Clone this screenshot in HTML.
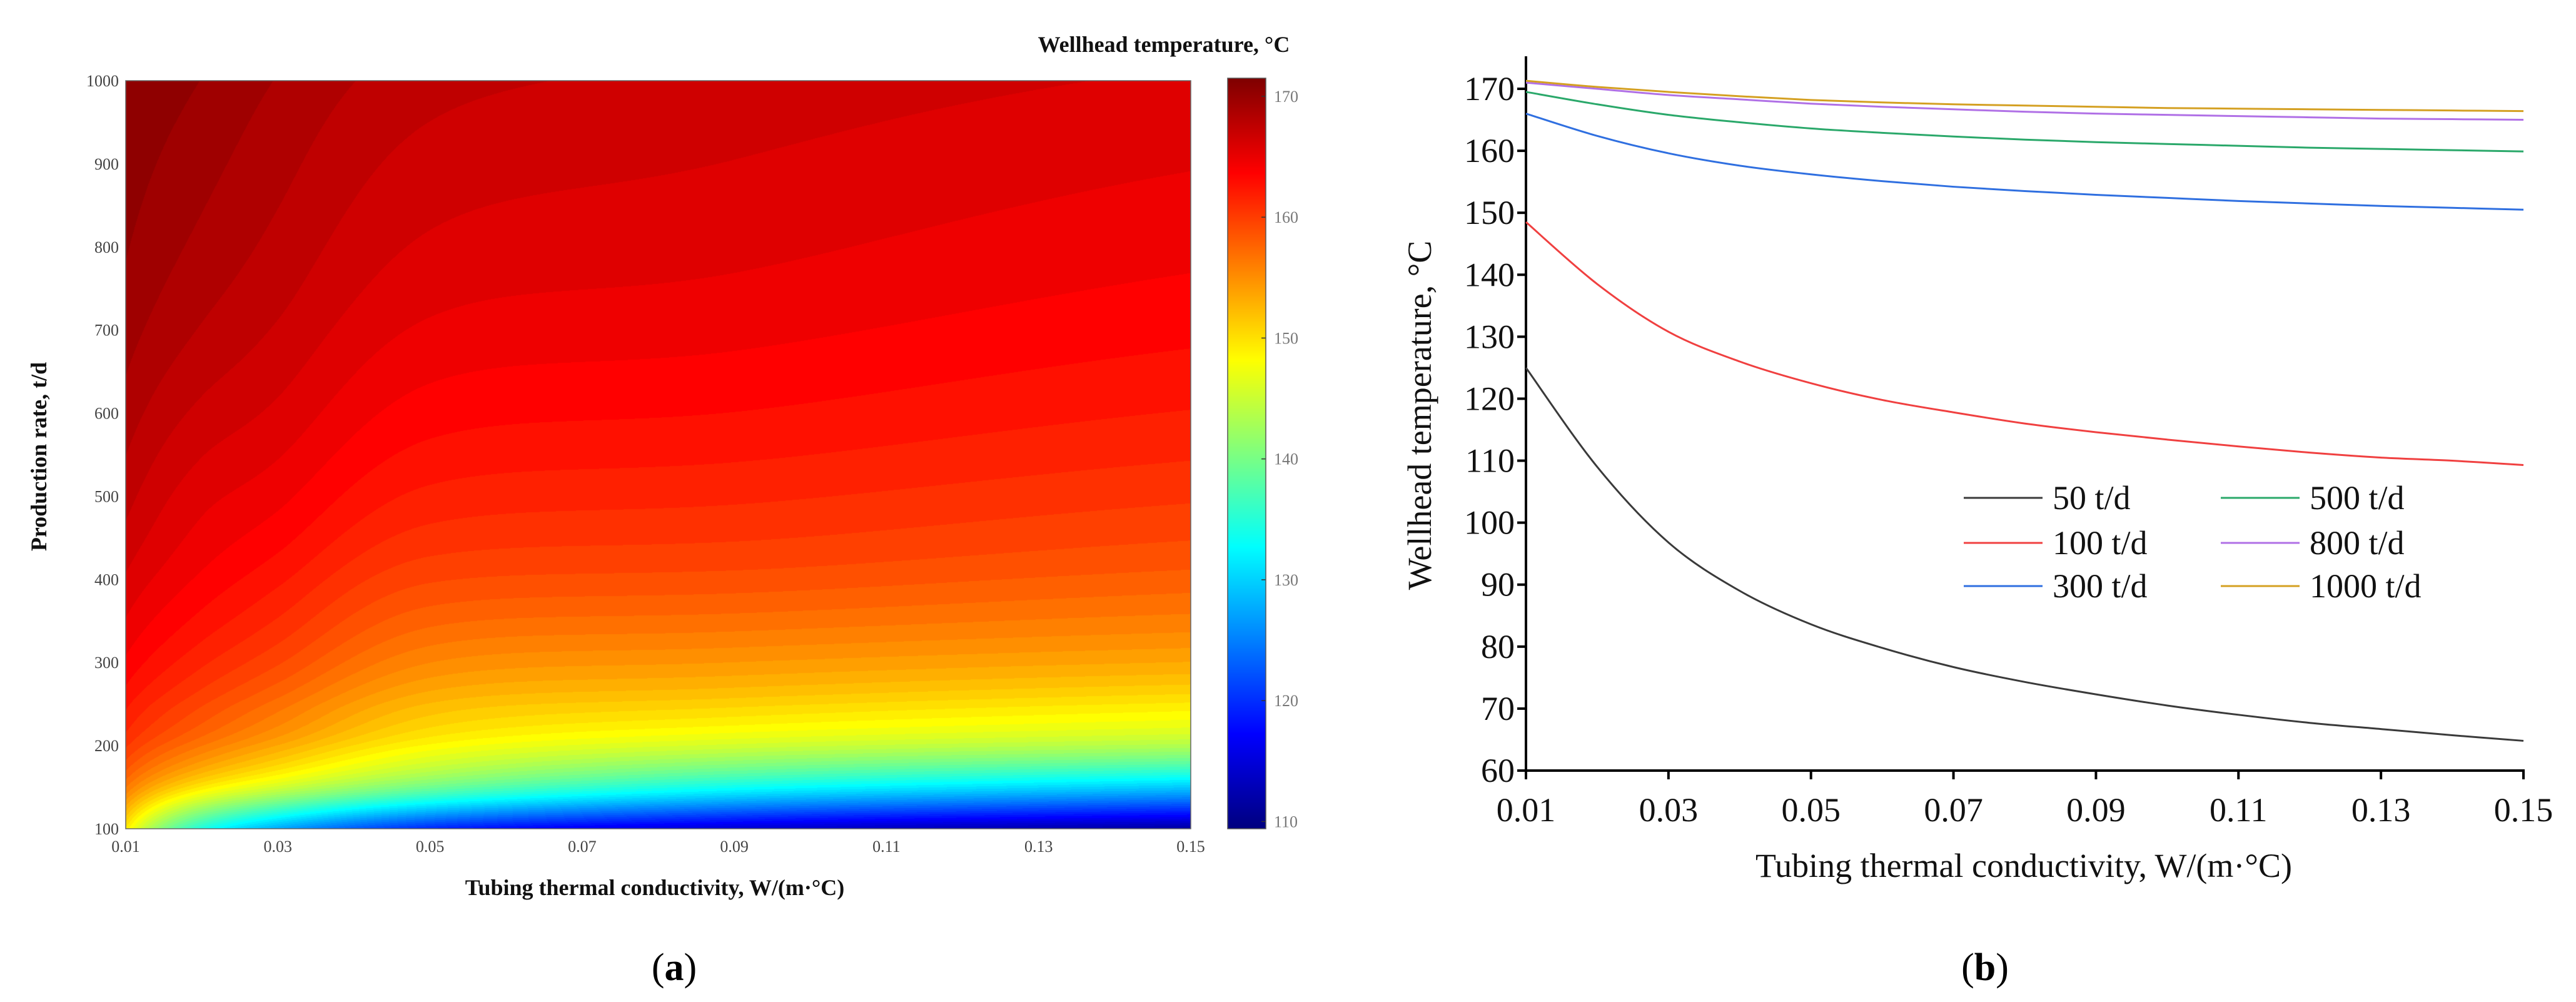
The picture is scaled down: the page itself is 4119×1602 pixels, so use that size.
<!DOCTYPE html>
<html><head><meta charset="utf-8">
<style>
html,body{margin:0;padding:0;background:#fff;width:4119px;height:1602px;overflow:hidden;}
#wrap{position:relative;width:4119px;height:1602px;}
#heat{position:absolute;left:201px;top:129px;}
#cbar{position:absolute;left:1963px;top:125px;}
svg{position:absolute;left:0;top:0;}
text{font-family:"Liberation Serif",serif;}
</style></head>
<body><div id="wrap">
<canvas id="heat" width="1703" height="1196"></canvas>
<canvas id="cbar" width="61" height="1200"></canvas>
<svg id="svg" width="4119" height="1602"></svg>
</div>
<script>
// ---- line chart data ----
const xVals = [0.01,0.02,0.03,0.04,0.05,0.06,0.07,0.08,0.09,0.10,0.11,0.12,0.13,0.14,0.15];
const seriesNames = ["50 t/d","100 t/d","300 t/d","500 t/d","800 t/d","1000 t/d"];
const s50   = [125,109,96.8,89,83.6,79.8,76.7,74.3,72.3,70.5,69,67.7,66.7,65.7,64.8];
const s100  = [148.5,138.5,130.8,126,122.5,119.8,117.8,116,114.6,113.4,112.3,111.3,110.5,110,109.3];
const s300  = [166,162.4,159.6,157.6,156.2,155.1,154.2,153.5,152.9,152.4,151.9,151.5,151.1,150.8,150.5];
const s500  = [169.5,167.5,165.8,164.6,163.6,162.9,162.3,161.8,161.4,161.1,160.8,160.5,160.3,160.1,159.9];
const s800  = [171,170,169,168.3,167.6,167.1,166.7,166.3,166,165.8,165.6,165.4,165.2,165.1,165];
const s1000 = [171.3,170.3,169.5,168.8,168.2,167.8,167.5,167.3,167.1,166.9,166.8,166.7,166.6,166.5,166.4];
// ---- heatmap data ----
const heatK = [0.01,0.02,0.03,0.05,0.09,0.15];
const heatRates = [100,150,200,250,300,400,500,700,1000];
const hk001 = [150,157,161,163,164.5,166.5,168,170,171.5];
const hk002 = [135,150,157,160,162,164.5,166,168.5,170.5];
const hk003 = [128,146,154,157.5,160,163,165,167.5,169.5];
const hk005 = [120,140,149,153,156,160,162.5,165.5,168];
const hk009 = [115,134,146,151.5,155,159.5,162,165,167.3];
const hk015 = [112,130,144,150,154,158.5,161,164,166.5];
const heatCols = [hk001,hk002,hk003,hk005,hk009,hk015];

const seriesColors = ["#3a3a3a","#f04040","#2f6fe0","#2aa86a","#b070e6","#d4a022"];
const lineSeries = [s50,s100,s300,s500,s800,s1000];
const yTicksB = [60,70,80,90,100,110,120,130,140,150,160,170];
const xTicks = [0.01,0.03,0.05,0.07,0.09,0.11,0.13,0.15];
const yTicksA = [100,200,300,400,500,600,700,800,900,1000];
const cbTicks = [110,120,130,140,150,160,170];

const NS="http://www.w3.org/2000/svg";
const svg=document.getElementById('svg');
function el(tag,attrs,txt){const e=document.createElementNS(NS,tag);for(const k in attrs)e.setAttribute(k,attrs[k]);if(txt!==undefined)e.textContent=txt;svg.appendChild(e);return e;}

function jet(v){
  const r=Math.min(1,Math.max(0,1.5-Math.abs(4*v-3)));
  const g=Math.min(1,Math.max(0,1.5-Math.abs(4*v-2)));
  const b=Math.min(1,Math.max(0,1.5-Math.abs(4*v-1)));
  return [r*255,g*255,b*255];
}
const cMin=109.4,cMax=171.5;
// monotone cubic (Fritsch-Carlson) interpolation
function smoothInterp(xs,ys,x){
  const n=xs.length;
  if(x<=xs[0])return ys[0]; if(x>=xs[n-1])return ys[n-1];
  const d=[],m=[];
  for(let i=0;i<n-1;i++)d.push((ys[i+1]-ys[i])/(xs[i+1]-xs[i]));
  m[0]=d[0];m[n-1]=d[n-2];
  for(let i=1;i<n-1;i++){m[i]=(d[i-1]*d[i]<=0)?0:(d[i-1]+d[i])/2;}
  for(let i=0;i<n-1;i++){if(d[i]===0){m[i]=m[i+1]=0;continue;}const a=m[i]/d[i],b=m[i+1]/d[i],s=a*a+b*b;if(s>9){const t=3/Math.sqrt(s);m[i]=t*a*d[i];m[i+1]=t*b*d[i];}}
  let i=0;while(x>xs[i+1])i++;
  const h=xs[i+1]-xs[i],t=(x-xs[i])/h,t2=t*t,t3=t2*t;
  return (2*t3-3*t2+1)*ys[i]+(t3-2*t2+t)*h*m[i]+(-2*t3+3*t2)*ys[i+1]+(t3-t2)*h*m[i+1];
}
const hx0=201,hx1=1904,hy0=129,hy1=1325;
const hxs=v=>hx0+(v-0.01)/(0.14)*(hx1-hx0);
const hys=v=>hy1-(v-100)/900*(hy1-hy0);
(function(){
  const c=document.getElementById('heat'),ctx=c.getContext('2d');
  const W=c.width,H=c.height,img=ctx.createImageData(W,H);
  const lk=heatK.map(Math.log);
  const cols=[];
  for(let px=0;px<W;px++){
    const k=0.01+px/(W-1)*0.14;
    cols.push(heatRates.map((r,ri)=>smoothInterp(lk,heatCols.map(col=>col[ri]),Math.log(k))));
  }
  for(let py=0;py<H;py++){
    const rate=1000-py/(H-1)*900;
    for(let px=0;px<W;px++){
      const T=smoothInterp(heatRates,cols[px],rate);
      const q=Math.floor(((T-cMin)/(cMax-cMin))*64)/64;
      const [r,g,b]=jet(Math.min(1,Math.max(0,q)));
      const i=(py*W+px)*4;img.data[i]=r;img.data[i+1]=g;img.data[i+2]=b;img.data[i+3]=255;
    }
  }
  ctx.putImageData(img,0,0);
  const cb=document.getElementById('cbar'),cc=cb.getContext('2d');
  for(let y=0;y<cb.height;y++){const T=cMax-y/(cb.height-1)*(cMax-cMin);const [r,g,b]=jet((T-cMin)/(cMax-cMin));cc.fillStyle=`rgb(${r|0},${g|0},${b|0})`;cc.fillRect(0,y,cb.width,1);}
})();
el('rect',{x:hx0,y:hy0,width:hx1-hx0,height:hy1-hy0,fill:'none',stroke:'#666','stroke-width':1.5,});
yTicksA.forEach(v=>{el('text',{x:190,y:hys(v)+9,'text-anchor':'end','font-size':26,fill:'#444',},v);});
xTicks.forEach(v=>{el('text',{x:hxs(v),y:1362,'text-anchor':'middle','font-size':26,fill:'#444',},v.toFixed(2));});
el('text',{x:1047,y:1431,'text-anchor':'middle','font-size':36,'font-weight':'bold',fill:'#111',},'Tubing thermal conductivity, W/(m·°C)');
el('text',{x:0,y:0,transform:'translate(74,730) rotate(-90)','text-anchor':'middle','font-size':36,'font-weight':'bold',fill:'#111',},'Production rate, t/d');
el('text',{x:1861,y:83,'text-anchor':'middle','font-size':36,'font-weight':'bold',fill:'#111',},'Wellhead temperature, °C');
const cbY=v=>125+(cMax-v)/(cMax-cMin)*1200;
cbTicks.forEach(v=>{
  el('line',{x1:2017,x2:2024,y1:cbY(v),y2:cbY(v),stroke:'#333','stroke-width':1.5,});
  el('text',{x:2037,y:cbY(v)+9,'font-size':26,fill:'#777',},v);
});
el('rect',{x:1963,y:125,width:61,height:1200,fill:'none',stroke:'#555','stroke-width':1.5,});
const la=el('text',{x:1078,y:1567,'text-anchor':'middle','font-size':62,'font-family':'Liberation Sans',});
la.innerHTML='(<tspan font-weight="bold">a</tspan>)';

// ---- line chart (b) ----
const bx0=2440,bx1=4035,by60=1232,by170=142;
const bxs=v=>bx0+(v-0.01)/0.14*(bx1-bx0);
const bys=v=>by60-(v-60)/110*(by60-by170);
el('line',{x1:bx0,x2:bx0,y1:90,y2:by60+2,stroke:'#000','stroke-width':4,});
el('line',{x1:bx0-2,x2:bx1+2,y1:by60,y2:by60,stroke:'#000','stroke-width':4,});
yTicksB.forEach(v=>{
  el('line',{x1:bx0-14,x2:bx0,y1:bys(v),y2:bys(v),stroke:'#000','stroke-width':4,});
  el('text',{x:bx0-18,y:bys(v)+18,'text-anchor':'end','font-size':54,fill:'#111',},v);
});
xTicks.forEach(v=>{
  el('line',{x1:bxs(v),x2:bxs(v),y1:by60,y2:by60+14,stroke:'#000','stroke-width':4,});
  el('text',{x:bxs(v),y:1313,'text-anchor':'middle','font-size':54,fill:'#111',},v.toFixed(2));
});
el('text',{x:3236,y:1402,'text-anchor':'middle','font-size':54,fill:'#111',},'Tubing thermal conductivity, W/(m·°C)');
el('text',{x:0,y:0,transform:'translate(2288,664) rotate(-90)','text-anchor':'middle','font-size':54,fill:'#111',},'Wellhead temperature, °C');
lineSeries.forEach((s,i)=>{
  const pts=s.map((v,j)=>[bxs(xVals[j]),bys(v)]);
  let d=`M${pts[0][0]},${pts[0][1]}`;
  for(let j=0;j<pts.length-1;j++){
    const p0=pts[Math.max(0,j-1)],p1=pts[j],p2=pts[j+1],p3=pts[Math.min(pts.length-1,j+2)];
    const c1=[p1[0]+(p2[0]-p0[0])/6,p1[1]+(p2[1]-p0[1])/6],c2=[p2[0]-(p3[0]-p1[0])/6,p2[1]-(p3[1]-p1[1])/6];
    d+=` C${c1[0]},${c1[1]} ${c2[0]},${c2[1]} ${p2[0]},${p2[1]}`;
  }
  const p=el('path',{d:d,fill:'none',stroke:seriesColors[i],'stroke-width':3});
  
  
});
const legX=[3140,3551],legY=[796,868,937];
seriesNames.forEach((n,i)=>{
  const cx=legX[Math.floor(i/3)],cy=legY[i%3];
  el('line',{x1:cx,x2:cx+126,y1:cy,y2:cy,stroke:seriesColors[i],'stroke-width':3,});
  el('text',{x:cx+142,y:cy+18,'font-size':54,fill:'#111',},n);
});
const lb=el('text',{x:3174,y:1567,'text-anchor':'middle','font-size':62,'font-family':'Liberation Sans',});
lb.innerHTML='(<tspan font-weight="bold">b</tspan>)';
</script>
</body></html>
